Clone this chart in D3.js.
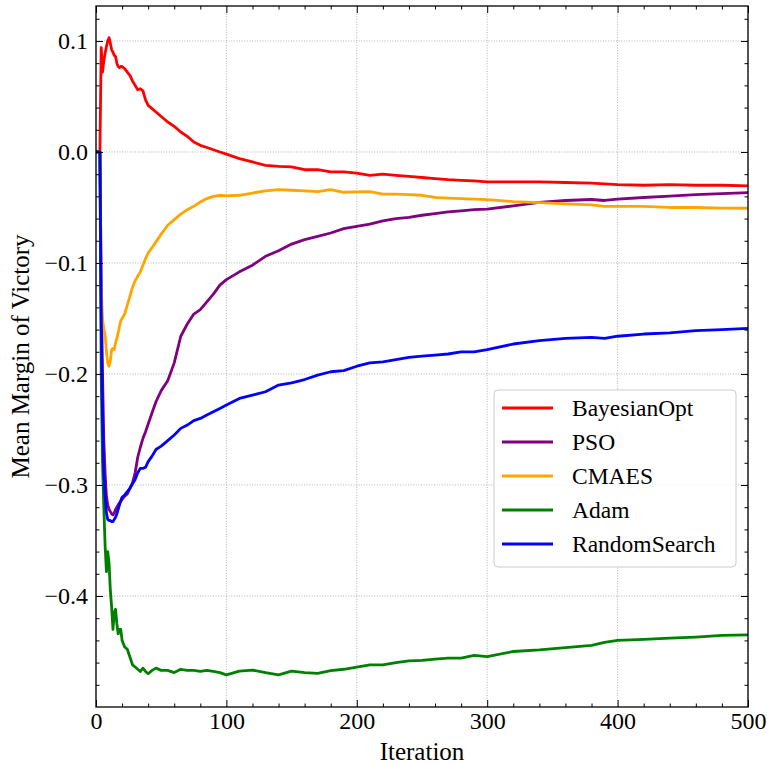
<!DOCTYPE html>
<html><head><meta charset="utf-8">
<script src="https://cdn.jsdelivr.net/npm/d3@7"></script>
<style>
body{margin:0;background:#fff;}
text{font-family:"Liberation Serif","DejaVu Serif",serif;}
</style></head>
<body><svg id="c" width="767" height="765"></svg>
<script>
const iterations = [0,3,4,5,6,7,8,9,10,11,12,13,14,15,16,17,18,19,20,22,24,26,28,30,32,34,36,38,40,43,46,50,55,60,65,70,75,80,85,90,95,100,110,120,130,140,150,160,170,180,190,200,210,220,230,240,250,260,270,280,290,300,320,340,360,380,390,400,420,440,460,480,500];

const bayesianOpt = [0,0,0.094,0.072,0.082,0.089,0.095,0.100,0.103,0.098,0.092,0.090,0.087,0.086,0.080,0.077,0.076,0.077,0.077,0.075,0.072,0.069,0.064,0.060,0.056,0.057,0.055,0.047,0.042,0.039,0.036,0.032,0.027,0.023,0.018,0.014,0.009,0.006,0.004,0.002,0.000,-0.002,-0.006,-0.009,-0.012,-0.013,-0.0135,-0.016,-0.016,-0.018,-0.018,-0.019,-0.021,-0.020,-0.021,-0.022,-0.023,-0.024,-0.025,-0.0255,-0.026,-0.027,-0.027,-0.027,-0.0275,-0.028,-0.0288,-0.0295,-0.030,-0.0295,-0.030,-0.030,-0.0306];

const pso = [0,0,-0.12,-0.20,-0.26,-0.29,-0.31,-0.318,-0.322,-0.324,-0.326,-0.327,-0.325,-0.322,-0.320,-0.318,-0.316,-0.315,-0.313,-0.310,-0.308,-0.303,-0.298,-0.289,-0.275,-0.266,-0.258,-0.252,-0.245,-0.235,-0.225,-0.215,-0.206,-0.190,-0.166,-0.155,-0.146,-0.142,-0.135,-0.128,-0.120,-0.115,-0.108,-0.102,-0.094,-0.089,-0.083,-0.079,-0.076,-0.073,-0.069,-0.067,-0.065,-0.062,-0.060,-0.059,-0.057,-0.0555,-0.054,-0.053,-0.052,-0.0515,-0.0485,-0.0455,-0.0437,-0.0428,-0.0437,-0.0425,-0.041,-0.0398,-0.0385,-0.0375,-0.0366];

const cmaes = [0,0,-0.12,-0.15,-0.16,-0.165,-0.18,-0.19,-0.193,-0.188,-0.178,-0.177,-0.178,-0.172,-0.168,-0.163,-0.157,-0.152,-0.150,-0.146,-0.138,-0.130,-0.122,-0.116,-0.112,-0.108,-0.102,-0.096,-0.091,-0.086,-0.081,-0.074,-0.066,-0.061,-0.056,-0.052,-0.049,-0.045,-0.042,-0.040,-0.039,-0.0395,-0.039,-0.037,-0.035,-0.034,-0.0345,-0.035,-0.0357,-0.034,-0.0363,-0.036,-0.0357,-0.038,-0.038,-0.0385,-0.039,-0.041,-0.0415,-0.042,-0.0425,-0.043,-0.0447,-0.0457,-0.0468,-0.0477,-0.049,-0.049,-0.049,-0.050,-0.050,-0.0505,-0.0507];

const adam = [0,0,-0.20,-0.28,-0.32,-0.355,-0.378,-0.36,-0.37,-0.395,-0.41,-0.43,-0.415,-0.412,-0.425,-0.434,-0.43,-0.43,-0.44,-0.446,-0.448,-0.455,-0.462,-0.464,-0.466,-0.468,-0.465,-0.468,-0.47,-0.467,-0.465,-0.467,-0.467,-0.469,-0.466,-0.467,-0.467,-0.468,-0.467,-0.468,-0.469,-0.471,-0.4676,-0.4667,-0.469,-0.471,-0.4676,-0.469,-0.4697,-0.4673,-0.466,-0.464,-0.462,-0.462,-0.460,-0.4585,-0.458,-0.4568,-0.456,-0.456,-0.4535,-0.4547,-0.450,-0.4486,-0.4465,-0.4445,-0.4417,-0.440,-0.439,-0.438,-0.437,-0.4355,-0.435];

const randomSearch = [0,0,-0.15,-0.24,-0.29,-0.31,-0.325,-0.331,-0.332,-0.332,-0.333,-0.333,-0.331,-0.329,-0.326,-0.322,-0.318,-0.314,-0.311,-0.309,-0.306,-0.303,-0.299,-0.295,-0.289,-0.285,-0.285,-0.284,-0.279,-0.274,-0.268,-0.265,-0.260,-0.255,-0.249,-0.246,-0.242,-0.240,-0.237,-0.234,-0.231,-0.228,-0.222,-0.219,-0.216,-0.210,-0.208,-0.205,-0.201,-0.198,-0.197,-0.193,-0.190,-0.189,-0.187,-0.185,-0.184,-0.183,-0.182,-0.180,-0.180,-0.178,-0.173,-0.170,-0.168,-0.167,-0.168,-0.166,-0.164,-0.163,-0.161,-0.160,-0.159];

const seriesNames = ["BayesianOpt","PSO","CMAES","Adam","RandomSearch"];
const seriesValues = [bayesianOpt, pso, cmaes, adam, randomSearch];
const seriesColors = ["#ff0000","#800080","#ffa500","#008000","#0000ff"];

const xMajorTicks = [0,100,200,300,400,500];
const yMajorTicks = [-0.4,-0.3,-0.2,-0.1,0.0,0.1];

const xLabel = "Iteration";
const yLabel = "Mean Margin of Victory";

const L = 96, R = 748, T = 6, B = 707;
const svg = d3.select("#c");
const x = d3.scaleLinear().domain([0,500]).range([L,R]);
const y = d3.scaleLinear().domain([-0.5,0.1315]).range([B,T]);

const xMinor = d3.range(0,501,20).filter(v => v % 100 !== 0);
const yMinor = d3.range(-50,14,2).map(v => v/100).filter(v => Math.abs(Math.round(v*100)) % 10 !== 0);

// grid
const grid = svg.append("g").attr("stroke","#a0a0a0").attr("stroke-width",0.8).attr("stroke-dasharray","1,1.6");
xMajorTicks.forEach(v => grid.append("line").attr("x1",x(v)).attr("x2",x(v)).attr("y1",T).attr("y2",B));
yMajorTicks.forEach(v => grid.append("line").attr("x1",L).attr("x2",R).attr("y1",y(v)).attr("y2",y(v)));

// clip
svg.append("clipPath").attr("id","pc").append("rect").attr("x",L).attr("y",T).attr("width",R-L).attr("height",B-T);

const line = d3.line().x((d,i) => x(iterations[i])).y(d => y(d));
const plot = svg.append("g").attr("clip-path","url(#pc)");
seriesValues.forEach((vals,k) => {
  plot.append("path").datum(vals).attr("d",line).attr("fill","none")
    .attr("stroke",seriesColors[k]).attr("stroke-width",2.8).attr("stroke-linejoin","round");
});

// axes
const fmtY = d3.format(".1f");
function styleAxis(g){ g.select(".domain").remove(); g.selectAll(".tick line").attr("stroke","#000").attr("stroke-width",1); g.selectAll("text").attr("font-family","Liberation Serif, serif").attr("font-size",24).attr("fill","#000"); }
svg.append("g").attr("transform",`translate(0,${B})`).call(d3.axisBottom(x).tickValues(xMajorTicks).tickSize(-7).tickSizeOuter(0).tickPadding(5).tickFormat(d3.format("d"))).call(styleAxis);
svg.append("g").attr("transform",`translate(0,${B})`).call(d3.axisBottom(x).tickValues(xMinor).tickSize(-3.5).tickSizeOuter(0).tickFormat("")).call(styleAxis);
svg.append("g").attr("transform",`translate(0,${T})`).call(d3.axisTop(x).tickValues(xMajorTicks).tickSize(-7).tickSizeOuter(0).tickFormat("")).call(styleAxis);
svg.append("g").attr("transform",`translate(0,${T})`).call(d3.axisTop(x).tickValues(xMinor).tickSize(-3.5).tickSizeOuter(0).tickFormat("")).call(styleAxis);
svg.append("g").attr("transform",`translate(${L},0)`).call(d3.axisLeft(y).tickValues(yMajorTicks).tickSize(-7).tickSizeOuter(0).tickPadding(8).tickFormat(fmtY)).call(styleAxis);
svg.append("g").attr("transform",`translate(${L},0)`).call(d3.axisLeft(y).tickValues(yMinor).tickSize(-3.5).tickSizeOuter(0).tickFormat("")).call(styleAxis);
svg.append("g").attr("transform",`translate(${R},0)`).call(d3.axisRight(y).tickValues(yMajorTicks).tickSize(-7).tickSizeOuter(0).tickFormat("")).call(styleAxis);
svg.append("g").attr("transform",`translate(${R},0)`).call(d3.axisRight(y).tickValues(yMinor).tickSize(-3.5).tickSizeOuter(0).tickFormat("")).call(styleAxis);

svg.append("rect").attr("x",L).attr("y",T).attr("width",R-L).attr("height",B-T).attr("fill","none").attr("stroke","#000").attr("stroke-width",1.3);

// axis titles
svg.append("text").attr("x",(L+R)/2).attr("y",760).attr("text-anchor","middle").attr("font-size",25).text(xLabel);
svg.append("text").attr("transform",`translate(29,${(T+B)/2}) rotate(-90)`).attr("text-anchor","middle").attr("font-size",25).text(yLabel);

// legend
const lg = svg.append("g");
lg.append("rect").attr("x",494).attr("y",390).attr("width",242).attr("height",177).attr("rx",4).attr("fill","#fff").attr("fill-opacity",0.85).attr("stroke","#cccccc").attr("stroke-width",1);
seriesNames.forEach((n,k) => {
  const yy = 408 + k*34;
  lg.append("line").attr("x1",502).attr("x2",553).attr("y1",yy).attr("y2",yy).attr("stroke",seriesColors[k]).attr("stroke-width",2.8);
  lg.append("text").attr("x",572).attr("y",yy+8).attr("font-size",23.5).text(n);
});
</script></body></html>
